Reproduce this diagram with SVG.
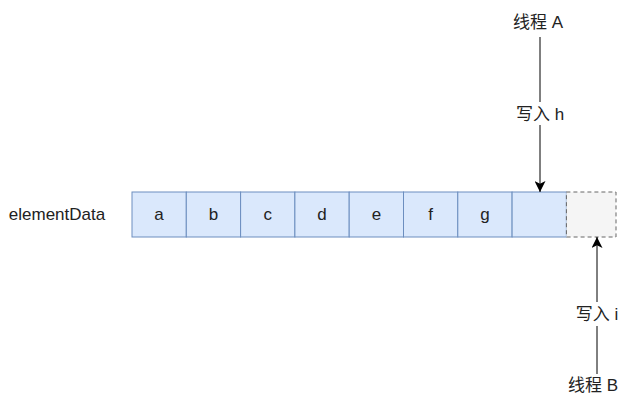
<svg xmlns="http://www.w3.org/2000/svg" width="621" height="396" viewBox="0 0 621 396">
<defs>
<style>
.t{font-family:"Liberation Sans","Noto Sans CJK SC",sans-serif;font-size:17px;fill:#222;text-anchor:middle;dominant-baseline:central}
.cell{fill:#dae8fc;stroke:#6c8ebf;stroke-width:1}
.dash{fill:#f5f5f5;stroke:#666;stroke-width:1;stroke-dasharray:4 3}
.edge{stroke:#000;stroke-width:1;fill:none}
</style>
<marker id="ah" viewBox="0 0 10 10" refX="10" refY="5" markerWidth="11" markerHeight="11" markerUnits="userSpaceOnUse" orient="auto">
<path d="M0,0 L10,5 L0,10 L2.5,5 Z" fill="#000"/>
</marker>
</defs>
<rect width="621" height="396" fill="#fff"/>
<g id="label-elementData"><text class="t" x="57" y="214">elementData</text></g>
<g id="cell-a"><rect class="cell" x="132" y="192" width="54.3" height="45"/><text class="t" x="159" y="214.5">a</text></g>
<g id="cell-b"><rect class="cell" x="186.3" y="192" width="54.3" height="45"/><text class="t" x="213.5" y="214.5">b</text></g>
<g id="cell-c"><rect class="cell" x="240.6" y="192" width="54.3" height="45"/><text class="t" x="267.8" y="214.5">c</text></g>
<g id="cell-d"><rect class="cell" x="294.9" y="192" width="54.3" height="45"/><text class="t" x="322" y="214.5">d</text></g>
<g id="cell-e"><rect class="cell" x="349.2" y="192" width="54.3" height="45"/><text class="t" x="376.4" y="214.5">e</text></g>
<g id="cell-f"><rect class="cell" x="403.5" y="192" width="54.3" height="45"/><text class="t" x="430.6" y="214.5">f</text></g>
<g id="cell-g"><rect class="cell" x="457.8" y="192" width="54.3" height="45"/><text class="t" x="485" y="214.5">g</text></g>
<g id="cell-empty"><rect class="cell" x="512.1" y="192" width="54.3" height="45"/></g>
<g id="cell-new"><rect class="dash" x="566.4" y="192" width="49.6" height="45"/></g>
<g id="thread-A"><text class="t" x="538" y="22">线程 A</text></g>
<g id="thread-B"><text class="t" x="593" y="385">线程 B</text></g>
<g id="connectors">
<path class="edge" d="M540,37 V102"/>
<path class="edge" d="M540,125 V192" marker-end="url(#ah)"/>
<text class="t" x="540" y="114">写入 h</text>
<path class="edge" d="M597,374 V326"/>
<path class="edge" d="M597,302 V237" marker-end="url(#ah)"/>
<text class="t" x="597" y="314">写入 i</text>
</g>
</svg>
